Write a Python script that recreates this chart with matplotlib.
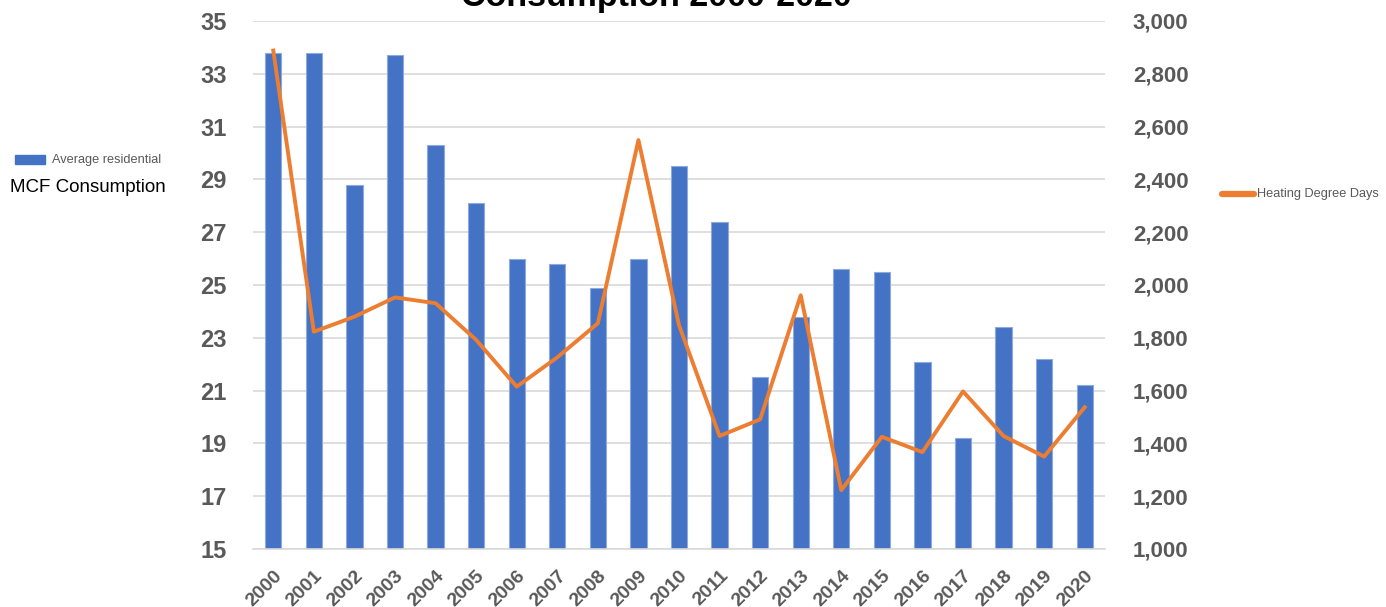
import matplotlib
matplotlib.use("Agg")
import matplotlib.pyplot as plt
import numpy as np

years = [str(y) for y in range(2000, 2021)]
mcf_consumption = [33.8, 33.8, 28.8, 33.7, 30.3, 28.1, 26.0, 25.8, 24.9, 26.0,
                   29.5, 27.4, 21.5, 23.8, 25.6, 25.5, 22.1, 19.2, 23.4, 22.2, 21.2]
heating_degree_days = [2888, 1823, 1880, 1953, 1931, 1792, 1615, 1726, 1855, 2549,
                       1848, 1428, 1491, 1961, 1223, 1425, 1367, 1597, 1428, 1350, 1537]
left_ticks = [15, 17, 19, 21, 23, 25, 27, 29, 31, 33, 35]
right_ticks = [1000, 1200, 1400, 1600, 1800, 2000, 2200, 2400, 2600, 2800, 3000]

BLUE = "#4472C4"
ORANGE = "#ED7D31"
GRAY = "#595959"
GRID = "#D9D9D9"

plt.rcParams['font.family'] = ['Liberation Sans', 'DejaVu Sans']

fig = plt.figure(figsize=(13.86, 6.07), dpi=100)
ax = fig.add_axes([253/1386, 1-549/607, (1105-253)/1386, (549-21)/607])

x = np.arange(len(years))
ax.bar(x, mcf_consumption, width=0.4, color=BLUE, edgecolor="#8FAADC", linewidth=0.8, zorder=2)
ax.set_xlim(-0.5, len(years) - 0.5)
ax.set_ylim(15, 35)
ax.set_yticks(left_ticks)
ax.set_yticklabels([str(v) for v in left_ticks], fontsize=17, fontweight='bold', color=GRAY)
ax.yaxis.grid(True, color=GRID, linewidth=1.2, zorder=0)
ax.set_axisbelow(True)
ax.set_xticks(x)
ax.set_xticklabels(years, rotation=45, ha='right', rotation_mode='anchor',
                   fontsize=14, fontweight='bold', color=GRAY)
ax.tick_params(axis='both', length=0)
ax.tick_params(axis='y', pad=19)
ax.tick_params(axis='x', pad=13)
for s in ['top', 'left', 'right']:
    ax.spines[s].set_visible(False)
ax.spines['bottom'].set_color(GRID)
ax.spines['bottom'].set_linewidth(1.2)

ax2 = ax.twinx()
ax2.plot(x, heating_degree_days, color=ORANGE, linewidth=2.8, zorder=3)
ax2.set_ylim(1000, 3000)
ax2.set_yticks(right_ticks)
ax2.set_yticklabels([f"{v:,}" for v in right_ticks], fontsize=16, fontweight='bold', color=GRAY)
ax2.tick_params(axis='y', length=0, pad=20)
for s in ['top', 'left', 'right', 'bottom']:
    ax2.spines[s].set_visible(False)

# Title (partially cut off at the top, as in the reference)
fig.text(656/1386, 1 - 6/607, "Consumption 2000-2020", ha='center', va='baseline',
         fontsize=24.5, fontweight='bold', color='black')

# Left legend
fig.patches.append(matplotlib.patches.Rectangle((15/1386, 1-164/607), 30/1386, 9/607,
                                                transform=fig.transFigure, color=BLUE))
fig.text(52/1386, 1-160/607, "Average residential", ha='left', va='center',
         fontsize=9.2, color=GRAY)
fig.text(10/1386, 1-187/607, "MCF Consumption", ha='left', va='center',
         fontsize=13.5, color='black')

# Right legend
fig.lines.append(matplotlib.lines.Line2D([1222/1386, 1254/1386], [1-194/607, 1-194/607],
                                         transform=fig.transFigure, color=ORANGE,
                                         linewidth=4.5, solid_capstyle='round'))
fig.text(1257/1386, 1-194/607, "Heating Degree Days", ha='left', va='center',
         fontsize=9.2, color=GRAY)

fig.savefig("out.png", dpi=100)
